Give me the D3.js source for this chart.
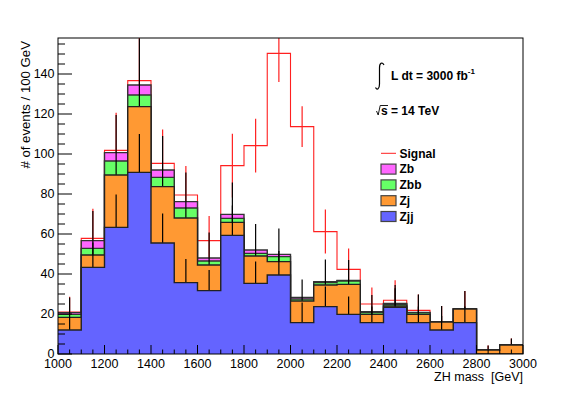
<!DOCTYPE html>
<html>
<head>
<meta charset="utf-8">
<script src="https://cdn.jsdelivr.net/npm/d3@7"></script>
<style>
body { margin: 0; background: #fff; }
text { font-family: "Liberation Sans", Arial, Helvetica, sans-serif; fill: #000; }
.axisLabel { font-size: 12.5px; }
.title { font-size: 12.5px; white-space: pre; }
.yTitle { font-size: 13.2px; }
.legend { font-size: 12px; font-weight: bold; }
</style>
</head>
<body>
<div id="chart"></div>
<script>
const width = 581;
const height = 394;

// bins of 100 GeV, low edges
const binLow = [1000, 1100, 1200, 1300, 1400, 1500, 1600, 1700, 1800, 1900,
                2000, 2100, 2200, 2300, 2400, 2500, 2600, 2700, 2800, 2900];

const zjj    = [12, 43.3, 63.3, 90.8, 55.5, 35.7, 31.7, 59.3, 35.3, 39.5, 15.7, 23.7, 19.8, 15.7, 23.4, 15.7, 12, 15.7, 0, 0];
const zj     = [6.3, 6.2, 26.2, 32.9, 28.2, 32.3, 12.8, 6.5, 13.7, 6.7, 10.8, 10.8, 15, 4.1, 0.6, 4.1, 4, 6.8, 2, 4.5];
const zbb    = [1.5, 3.3, 7, 5.8, 4.6, 5, 2, 2, 1.3, 2.5, 1, 1.2, 1.7, 0.9, 0.9, 0.8, 0, 0, 0, 0];
const zb     = [0.9, 3.9, 4.2, 5, 3.7, 3.2, 1.5, 2, 1.7, 1.1, 0.8, 0.5, 0.3, 0.5, 0.4, 0.2, 0, 0, 0, 0];
const signal = [0.3, 1.1, 1.1, 2.2, 3.3, 3.3, 8.7, 24.4, 52.2, 100.5, 85.4, 25, 5.5, 3.8, 1.6, 1.0, 0, 0, 0, 0];

// half lengths of the error bars
const errTot = [7.6, 14.8, 18.8, 23.3, 17, 14.5, 12.7, 15.9, 13, 13, 9, 11, 10.2, 8.3, 9.2, 8.9, 8, 9, 2.2, 3.3];
const errJJ  = [6.5, 12.5, 16.4, 19.2, 14.8, 11.8, 10.3, 15, 11, 12, 10, 10, 9, 8, 9.5, 8, 7, 8, 0, 0];
const errSig = [7.6, 14.8, 18.8, 23.3, 17, 14.5, 12.3, 15.9, 13.4, 14.3, 10.2, 11, 10.5, 8.3, 10, 8, 8, 9, 2.2, 3.3];

const xTickLabels = [1000, 1200, 1400, 1600, 1800, 2000, 2200, 2400, 2600, 2800, 3000];
const yTickLabels = [0, 20, 40, 60, 80, 100, 120, 140];

const colors = {zb: "#ff66ff", zbb: "#66ff66", zj: "#ff9933", zjj: "#6464ff", signal: "#ff2020"};

const margin = {top: 38, right: 58, bottom: 40, left: 58};

const svg = d3.select("#chart").append("svg")
   .attr("width", width)
   .attr("height", height);

const x = d3.scaleLinear()
   .domain([1000, 3000])
   .range([margin.left, width - margin.right]);

const y = d3.scaleLinear()
   .domain([0, 158])
   .range([height - margin.bottom, margin.top]);

// cumulative stack
const cumJJ  = zjj.slice();
const cumJ   = cumJJ.map((v, i) => v + zj[i]);
const cumBB  = cumJ.map((v, i) => v + zbb[i]);
const cumB   = cumBB.map((v, i) => v + zb[i]);
const cumSig = cumB.map((v, i) => v + signal[i]);

function steps(arr) {
   const pts = binLow.map((b, i) => ({x: b, v: arr[i]}));
   pts.push({x: 3000, v: arr[arr.length - 1]});
   return pts;
}

const area = d3.area()
   .curve(d3.curveStepAfter)
   .x(d => x(d.x))
   .y0(y(0))
   .y1(d => y(d.v));

const line = d3.line()
   .curve(d3.curveStepAfter)
   .x(d => x(d.x))
   .y(d => y(d.v));

svg.append("clipPath")
   .attr("id", "plotClip")
   .append("rect")
   .attr("x", x(1000))
   .attr("y", y(158))
   .attr("width", x(3000) - x(1000))
   .attr("height", y(0) - y(158));

const plot = svg.append("g").attr("clip-path", "url(#plotClip)");

function errorBars(center, err, color, skipZero) {
   plot.append("g")
      .selectAll("line")
      .data(binLow.map((b, i) => ({b: b, c: center[i], e: err[i]}))
         .filter(d => !skipZero || d.c > 0))
      .enter()
      .append("line")
      .attr("x1", d => x(d.b + 50))
      .attr("x2", d => x(d.b + 50))
      .attr("y1", d => y(d.c + d.e))
      .attr("y2", d => y(Math.max(0, d.c - d.e)))
      .attr("stroke", color)
      .attr("stroke-width", 1.2);
}

function layer(arr, fill, strokeColor) {
   plot.append("path")
      .datum(steps(arr))
      .attr("d", area)
      .attr("fill", fill);
   plot.append("path")
      .datum(steps(arr))
      .attr("d", line)
      .attr("fill", "none")
      .attr("stroke", strokeColor)
      .attr("stroke-width", 1.4);
}

// signal on top of background, drawn first so the stack hides it
plot.append("path")
   .datum(steps(cumSig))
   .attr("d", line)
   .attr("fill", "none")
   .attr("stroke", colors.signal)
   .attr("stroke-width", 1.1);
errorBars(cumSig, errSig, colors.signal, false);

layer(cumB, colors.zb, "#333");
layer(cumBB, colors.zbb, "#333");
errorBars(cumB, errTot, "#000", false);
layer(cumJ, colors.zj, "#222");
errorBars(cumJJ, errJJ, "#000", true);
layer(cumJJ, colors.zjj, "#222");

// frame
svg.append("rect")
   .attr("x", x(1000))
   .attr("y", y(158))
   .attr("width", x(3000) - x(1000))
   .attr("height", y(0) - y(158))
   .attr("fill", "none")
   .attr("stroke", "#000")
   .attr("stroke-width", 1);

// y axis ticks
const yAxis = svg.append("g");
yAxis.selectAll("line.minor")
   .data(d3.range(0, 158, 5))
   .enter()
   .append("line")
   .attr("x1", x(1000))
   .attr("x2", d => x(1000) + (d % 20 === 0 ? 14 : 7))
   .attr("y1", d => y(d))
   .attr("y2", d => y(d))
   .attr("stroke", "#000")
   .attr("stroke-width", 1);
yAxis.selectAll("text")
   .data(yTickLabels)
   .enter()
   .append("text")
   .attr("class", "axisLabel")
   .attr("x", x(1000) - 3.5)
   .attr("y", d => y(d) + 4)
   .attr("text-anchor", "end")
   .text(d => d);

// x axis ticks
const xAxis = svg.append("g");
xAxis.selectAll("line")
   .data(d3.range(1000, 3001, 50))
   .enter()
   .append("line")
   .attr("x1", d => x(d))
   .attr("x2", d => x(d))
   .attr("y1", y(0))
   .attr("y2", d => y(0) - (d % 200 === 0 ? 9 : 4.5))
   .attr("stroke", "#000")
   .attr("stroke-width", 1);
xAxis.selectAll("text")
   .data(xTickLabels)
   .enter()
   .append("text")
   .attr("class", "axisLabel")
   .attr("x", d => x(d))
   .attr("y", y(0) + 13.5)
   .attr("text-anchor", "middle")
   .text(d => d);

// axis titles
svg.append("text")
   .attr("class", "title")
   .attr("x", x(3000))
   .attr("y", 381)
   .attr("text-anchor", "end")
   .text("ZH mass  [GeV]");

svg.append("text")
   .attr("class", "title yTitle")
   .attr("transform", `translate(29.5, ${y(158) + 3}) rotate(-90)`)
   .attr("text-anchor", "end")
   .text("# of events / 100 GeV");

// luminosity and energy
svg.append("path")
   .attr("d", "M384,65 C382,61.5 379.5,63 379.5,68 L379.5,84 C379.5,89 377,90.5 375.5,87.5")
   .attr("fill", "none")
   .attr("stroke", "#000")
   .attr("stroke-width", 1.2);

const lumi = svg.append("text")
   .attr("class", "legend")
   .attr("x", 391)
   .attr("y", 79.5);
lumi.append("tspan").text("L dt = 3000 fb");
lumi.append("tspan")
   .attr("dy", -6)
   .style("font-size", "8px")
   .text("-1");

svg.append("path")
   .attr("d", "M376.5,111 L378.2,115 L380.2,105.5 L388,105.5")
   .attr("fill", "none")
   .attr("stroke", "#000")
   .attr("stroke-width", 0.9);
svg.append("text")
   .attr("class", "legend")
   .attr("x", 381)
   .attr("y", 115)
   .text("s = 14 TeV");

// legend
const legendItems = [
   {name: "Signal", color: colors.signal, line: true},
   {name: "Zb", color: colors.zb},
   {name: "Zbb", color: colors.zbb},
   {name: "Zj", color: colors.zj},
   {name: "Zjj", color: colors.zjj}
];
const legend = svg.append("g");
legendItems.forEach((d, i) => {
   const cy = 153.3 + i * 15.8;
   if (d.line) {
      legend.append("line")
         .attr("x1", 381).attr("x2", 396)
         .attr("y1", cy).attr("y2", cy)
         .attr("stroke", d.color)
         .attr("stroke-width", 1);
   } else {
      legend.append("rect")
         .attr("x", 381)
         .attr("y", cy - 5)
         .attr("width", 15)
         .attr("height", 10)
         .attr("fill", d.color)
         .attr("stroke", "#444")
         .attr("stroke-width", 1.2);
   }
   legend.append("text")
      .attr("class", "legend")
      .attr("x", 399.5)
      .attr("y", cy + 4.3)
      .text(d.name);
});
</script>
</body>
</html>
